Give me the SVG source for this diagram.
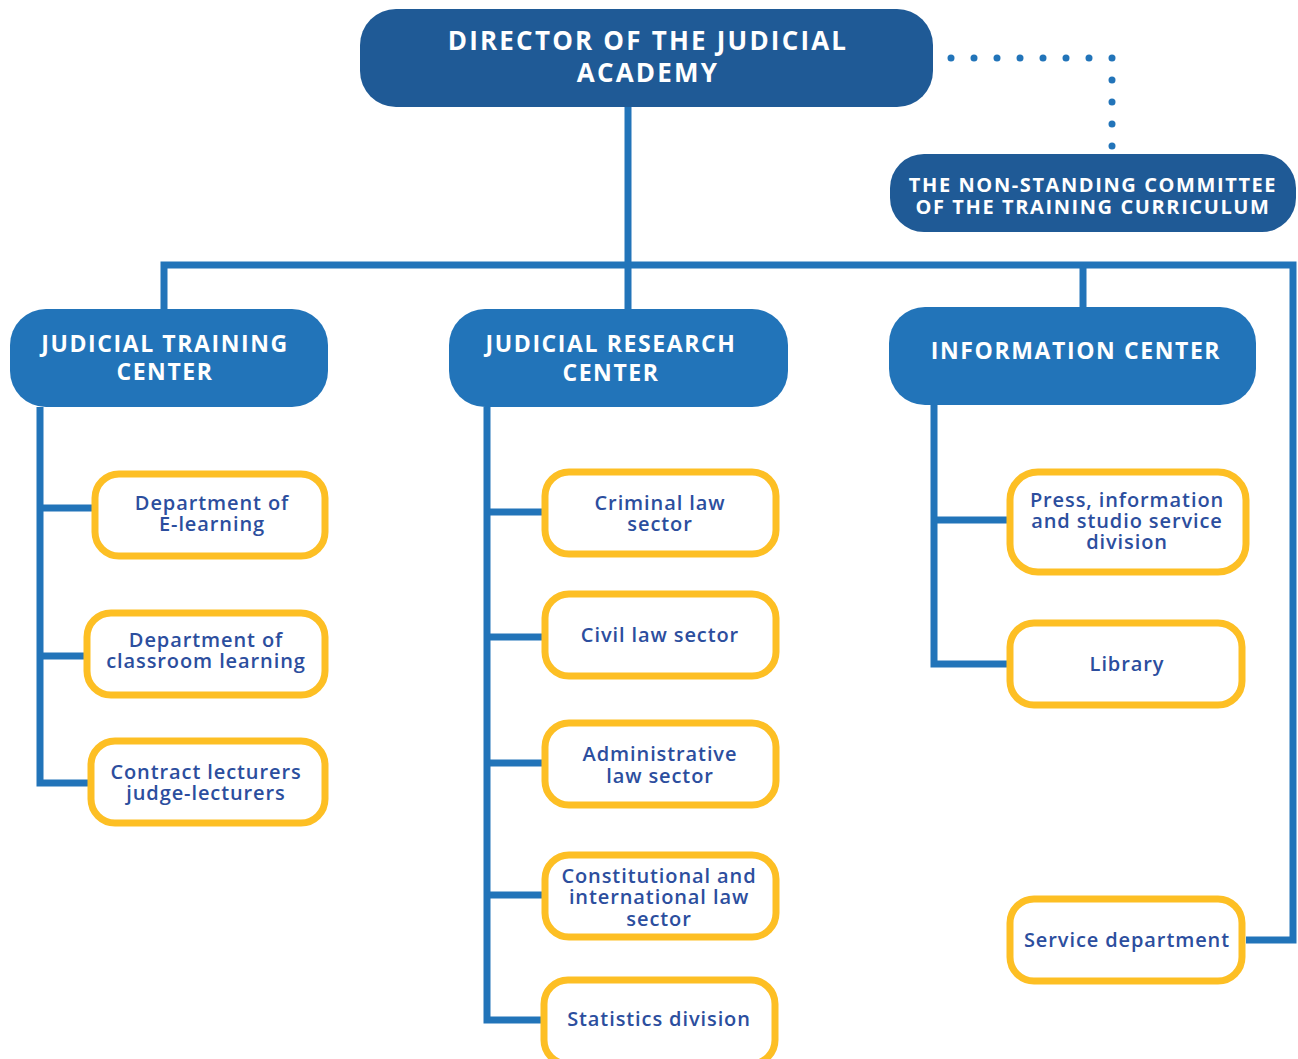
<svg xmlns="http://www.w3.org/2000/svg" width="1298" height="1059" viewBox="0 0 1298 1059">
<style>
.dark{fill:#1F5A96}
.mid{fill:#2274B9}
.hd{fill:#ffffff;font-family:"Open Sans","Liberation Sans",sans-serif;font-weight:700;text-anchor:middle}
.h1{font-size:26px;letter-spacing:2.2px}
.h2{font-size:20px;letter-spacing:1.6px}
.h3{font-size:23px;letter-spacing:1.6px}
.sub{fill:#ffffff;stroke:#FDBF24;stroke-width:7}
.st{fill:#2C4E9E;font-family:"Open Sans","Liberation Sans",sans-serif;font-weight:600;font-size:20px;letter-spacing:0.9px;text-anchor:middle}
.ln{fill:none;stroke:#2274B9;stroke-width:7}
.dot{fill:#2274B9}
</style>
<rect width="1298" height="1059" fill="#ffffff"/>
<g id="connectors">
<path class="ln" d="M628 107V265M164 309V265H1293V940H1246M628 265V309M1083 265V307"/>
<path class="ln" d="M40 407V783H91M40 508H95M40 656H87"/>
<path class="ln" d="M487 407V1020H545M487 512H545M487 637H545M487 763H545M487 895H545"/>
<path class="ln" d="M934 405V664H1010M934 520H1010"/>
<g class="dot">
<circle cx="951" cy="58" r="3.5"/><circle cx="974" cy="58" r="3.5"/><circle cx="997" cy="58" r="3.5"/><circle cx="1020" cy="58" r="3.5"/><circle cx="1043" cy="58" r="3.5"/><circle cx="1066" cy="58" r="3.5"/><circle cx="1089" cy="58" r="3.5"/><circle cx="1112" cy="58" r="3.5"/>
<circle cx="1112" cy="80" r="3.5"/><circle cx="1112" cy="102" r="3.5"/><circle cx="1112" cy="124" r="3.5"/><circle cx="1112" cy="146" r="3.5"/>
</g>
</g>
<g id="director">
<rect class="dark" x="360" y="9" width="573" height="98" rx="36"/>
<text class="hd h1" x="648" y="50">DIRECTOR OF THE JUDICIAL</text>
<text class="hd h1" x="648" y="82">ACADEMY</text>
</g>
<g id="committee">
<rect class="dark" x="890" y="154" width="406" height="78" rx="34"/>
<text class="hd h2" x="1093" y="192">THE NON-STANDING COMMITTEE</text>
<text class="hd h2" x="1093" y="214">OF THE TRAINING CURRICULUM</text>
</g>
<g id="training-center">
<rect class="mid" x="10" y="309" width="318" height="98" rx="36"/>
<text class="hd h3" x="165" y="352">JUDICIAL TRAINING</text>
<text class="hd h3" x="165" y="380">CENTER</text>
</g>
<g id="research-center">
<rect class="mid" x="449" y="309" width="339" height="98" rx="36"/>
<text class="hd h3" x="611" y="352">JUDICIAL RESEARCH</text>
<text class="hd h3" x="611" y="381">CENTER</text>
</g>
<g id="information-center">
<rect class="mid" x="889" y="307" width="367" height="98" rx="36"/>
<text class="hd h3" x="1076" y="359">INFORMATION CENTER</text>
</g>
<g id="e-learning">
<rect class="sub" x="95" y="474" width="230" height="82" rx="24"/>
<text class="st" x="212" y="510">Department of</text>
<text class="st" x="212" y="531">E-learning</text>
</g>
<g id="classroom">
<rect class="sub" x="87" y="613" width="238" height="82" rx="24"/>
<text class="st" x="206" y="647">Department of</text>
<text class="st" x="206" y="668">classroom learning</text>
</g>
<g id="contract">
<rect class="sub" x="91" y="741" width="234" height="82" rx="24"/>
<text class="st" x="206" y="779">Contract lecturers</text>
<text class="st" x="206" y="800">judge-lecturers</text>
</g>
<g id="criminal">
<rect class="sub" x="545" y="472" width="231" height="82" rx="24"/>
<text class="st" x="660" y="510">Criminal law</text>
<text class="st" x="660" y="531">sector</text>
</g>
<g id="civil">
<rect class="sub" x="545" y="594" width="231" height="82" rx="24"/>
<text class="st" x="660" y="642">Civil law sector</text>
</g>
<g id="administrative">
<rect class="sub" x="545" y="723" width="231" height="82" rx="24"/>
<text class="st" x="660" y="761">Administrative</text>
<text class="st" x="660" y="783">law sector</text>
</g>
<g id="constitutional">
<rect class="sub" x="545" y="855" width="231" height="82" rx="24"/>
<text class="st" x="659" y="883">Constitutional and</text>
<text class="st" x="659" y="904">international law</text>
<text class="st" x="659" y="926">sector</text>
</g>
<g id="statistics">
<rect class="sub" x="544" y="980" width="231" height="84" rx="24"/>
<text class="st" x="659" y="1026">Statistics division</text>
</g>
<g id="press">
<rect class="sub" x="1010" y="472" width="236" height="100" rx="28"/>
<text class="st" x="1127" y="507">Press, information</text>
<text class="st" x="1127" y="528">and studio service</text>
<text class="st" x="1127" y="549">division</text>
</g>
<g id="library">
<rect class="sub" x="1010" y="623" width="232" height="82" rx="24"/>
<text class="st" x="1127" y="671">Library</text>
</g>
<g id="service">
<rect class="sub" x="1010" y="899" width="232" height="82" rx="24"/>
<text class="st" x="1127" y="947">Service department</text>
</g>
</svg>
